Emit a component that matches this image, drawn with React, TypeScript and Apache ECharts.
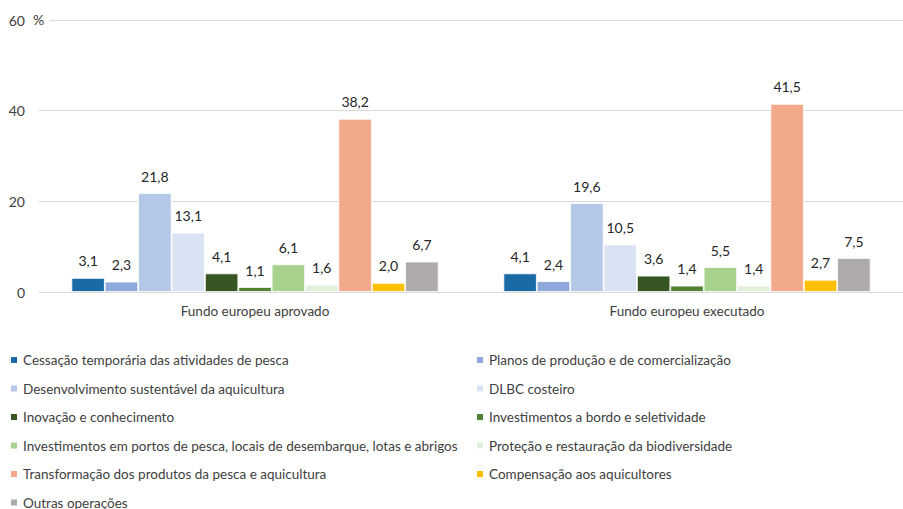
import React, { useEffect, useRef } from "react";
import * as echarts from "echarts";

const categories = ["Fundo europeu aprovado", "Fundo europeu executado"];

const seriesNames = [
  "Cessação temporária das atividades de pesca",
  "Planos de produção e de comercialização",
  "Desenvolvimento sustentável da aquicultura",
  "DLBC costeiro",
  "Inovação e conhecimento",
  "Investimentos a bordo e seletividade",
  "Investimentos em portos de pesca, locais de desembarque, lotas e abrigos",
  "Proteção e restauração da biodiversidade",
  "Transformação dos produtos da pesca e aquicultura",
  "Compensação aos aquicultores",
  "Outras operações",
];

const aprovado = [3.1, 2.3, 21.8, 13.1, 4.1, 1.1, 6.1, 1.6, 38.2, 2.0, 6.7];
const executado = [4.1, 2.4, 19.6, 10.5, 3.6, 1.4, 5.5, 1.4, 41.5, 2.7, 7.5];

const colors = [
  "#1A6AA6",
  "#8EA9DB",
  "#B4C7E7",
  "#DAE3F3",
  "#375623",
  "#548235",
  "#A9D18E",
  "#E2F0D9",
  "#F2A88A",
  "#FFC000",
  "#AEAAAA",
];

const yTicks = { min: 0, max: 60, interval: 20 };

const FONT = "Lato, 'Liberation Sans', sans-serif";
const FS = 13.5;

export default function App() {
  const ref = useRef<HTMLDivElement>(null);

  useEffect(() => {
    if (!ref.current) return;
    const chart = echarts.init(ref.current, null, { renderer: "svg" });

    const series = seriesNames.map((name, i) => ({
      name,
      type: "bar" as const,
      data: [aprovado[i], executado[i]],
      barGap: "0%",
      barCategoryGap: "15%",
      itemStyle: { color: colors[i], borderColor: "#ffffff", borderWidth: 0.8 },
      label: {
        show: true,
        position: "top" as const,
        distance: 10,
        color: "#262626",
        fontSize: 14,
        fontFamily: FONT,
        formatter: (p: any) => Number(p.value).toFixed(1).replace(".", ","),
      },
    }));

    // one legend per item, laid out in two columns
    const legends = seriesNames.map((name, i) => ({
      orient: "horizontal" as const,
      left: i % 2 === 0 ? 9 : 475,
      top: 352 + Math.floor(i / 2) * 28.5,
      padding: 0,
      itemWidth: 8,
      itemHeight: 8,
      icon: "rect",
      selectedMode: false,
      data: [name],
      textStyle: {
        color: "#404040",
        fontSize: FS,
        fontFamily: FONT,
        lineHeight: 16,
      },
    }));

    chart.setOption({
      animation: false,
      color: colors,
      textStyle: { fontFamily: FONT },
      grid: { left: 39, right: -6, top: 20, bottom: 217, containLabel: false },
      legend: legends,
      xAxis: {
        type: "category",
        data: categories,
        axisLine: { show: true, lineStyle: { color: "#D9D9D9", width: 1 } },
        axisTick: { show: false },
        axisLabel: {
          color: "#404040",
          fontSize: FS,
          fontFamily: FONT,
          margin: 12,
        },
      },
      yAxis: {
        type: "value",
        min: yTicks.min,
        max: yTicks.max,
        interval: yTicks.interval,
        axisLine: { show: false },
        axisTick: { show: false },
        splitLine: { lineStyle: { color: "#D9D9D9", width: 1 } },
        axisLabel: {
          color: "#404040",
          fontSize: 14,
          fontFamily: FONT,
          margin: 14,
        },
      },
      graphic: [
        {
          type: "text",
          left: 33,
          top: 12,
          z: 100,
          style: {
            text: "%",
            fill: "#404040",
            fontSize: 14,
            fontFamily: FONT,
            backgroundColor: "#ffffff",
            padding: [0, 6, 0, 0],
          },
        },
      ],
      series,
    });

    return () => chart.dispose();
  }, []);

  return (
    <div
      ref={ref}
      style={{ position: "fixed", left: 0, top: 0, width: 903, height: 509, background: "#fff" }}
    />
  );
}
